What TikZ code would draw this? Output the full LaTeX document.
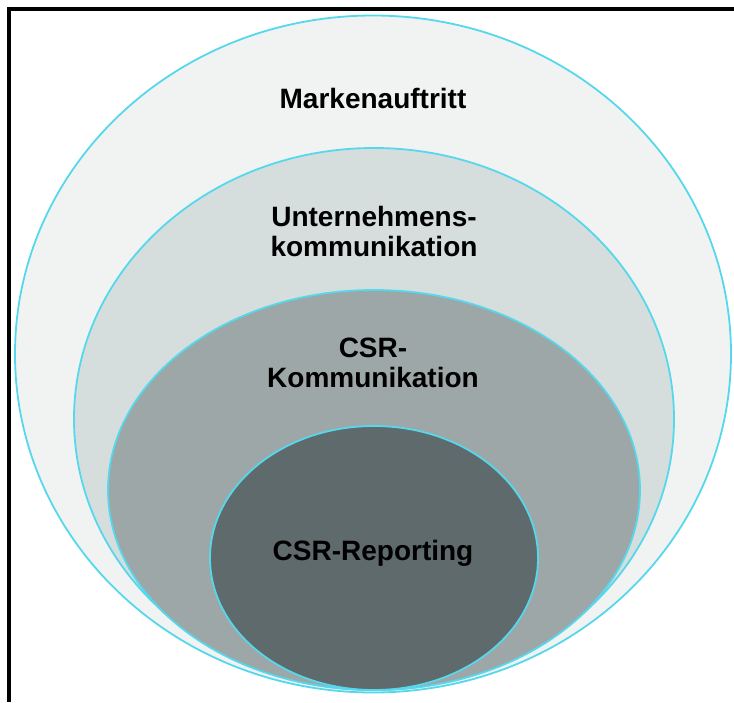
\documentclass[tikz,border=0pt]{standalone}
\usepackage{fontspec}
\setmainfont{Liberation Sans}
\usetikzlibrary{shapes.geometric}
\definecolor{ringline}{HTML}{55D8EC}
\definecolor{markefill}{HTML}{F1F3F3}
\definecolor{unternfill}{HTML}{D6DEDD}
\definecolor{csrfill}{HTML}{9DA7A7}
\definecolor{reportfill}{HTML}{5E6A6B}
\begin{document}
\begin{tikzpicture}[x=1pt,y=-1pt]

\tikzset{
  Ring/.style = { ellipse, draw = ringline, line width = 1.8pt, inner sep = 0pt },
  RingText/.style = { align = center, font = \fontsize{28}{30}\selectfont\bfseries,
                      text = black, inner sep = 0pt } }
  \useasboundingbox (0,0) rectangle (734,702);
  \draw[line width=4pt] (9,702) -- (9,9) -- (734,9);

  \node[Ring, fill=markefill,  minimum width=716pt, minimum height=677pt] (marke)  at (373,354) {};
  \node[Ring, fill=unternfill, minimum width=600pt, minimum height=542pt] (untern) at (374,419) {};
  \node[Ring, fill=csrfill,    minimum width=532pt, minimum height=400pt] (csr)    at (374,490) {};
  \node[Ring, fill=reportfill, minimum width=328pt, minimum height=264pt] (report) at (374,558) {};

  \node[RingText] (tmarke)  at (373,98)  {Markenauftritt};
  \node[RingText] (tuntern) at (374,231) {Unternehmens-\\kommunikation};
  \node[RingText] (tcsr)    at (373,363) {CSR-\\Kommunikation};
  \node[RingText] (treport) at (373,553) {CSR-Reporting};

\end{tikzpicture}
\end{document}
